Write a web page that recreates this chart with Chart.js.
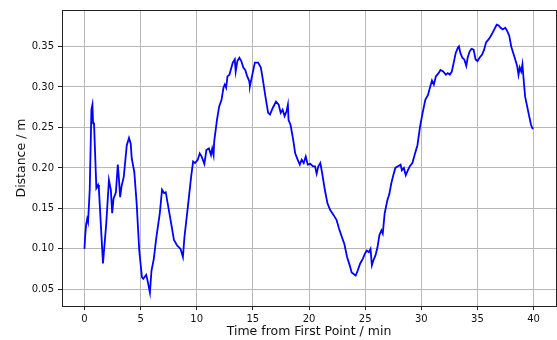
<!DOCTYPE html>
<html>
<head>
<meta charset="utf-8">
<script src="https://cdn.jsdelivr.net/npm/chart.js@4"></script>
<style>
  body { margin: 0; background: #fff; }
</style>
</head>
<body>
<canvas id="distChart" width="557" height="340"></canvas>
<script>
// time from first point (min) and distance (m)
const timeMin = [
  0.00, 0.06, 0.15, 0.24, 0.32, 0.47, 0.62, 0.71, 0.77, 0.85, 1.06, 1.21, 1.29, 1.65, 1.94,
  2.18, 2.35, 2.47, 2.59, 2.80, 2.97, 3.06, 3.18, 3.30, 3.50, 3.77, 3.97, 4.12, 4.21, 4.44,
  4.65, 4.88, 5.12, 5.24, 5.50, 5.65, 5.83, 5.97, 6.18, 6.41, 6.71, 6.91, 7.09, 7.24, 7.44,
  7.68, 7.97, 8.27, 8.56, 8.77, 8.91, 9.21, 9.50, 9.68, 9.85, 10.09, 10.27, 10.44, 10.68, 10.86,
  11.09, 11.27, 11.38, 11.50, 11.56, 11.80, 12.00, 12.21, 12.38, 12.50, 12.62, 12.74, 12.91, 13.09, 13.21,
  13.39, 13.47, 13.62, 13.80, 13.97, 14.15, 14.32, 14.50, 14.68, 14.74, 14.92, 15.18, 15.47, 15.71, 15.89,
  16.12, 16.36, 16.53, 16.77, 17.06, 17.30, 17.48, 17.65, 17.83, 18.00, 18.12, 18.18, 18.36, 18.59, 18.77,
  19.00, 19.18, 19.35, 19.53, 19.71, 19.89, 20.12, 20.36, 20.54, 20.68, 20.83, 21.01, 21.18, 21.41, 21.65,
  21.89, 22.18, 22.45, 22.68, 22.92, 23.15, 23.39, 23.62, 23.80, 23.98, 24.16, 24.33, 24.56, 24.80, 24.98,
  25.15, 25.33, 25.48, 25.60, 25.74, 25.92, 26.10, 26.27, 26.45, 26.57, 26.74, 26.98, 27.16, 27.33, 27.51,
  27.69, 27.92, 28.16, 28.27, 28.45, 28.62, 28.80, 28.98, 29.21, 29.45, 29.66, 29.89, 30.12, 30.36, 30.60,
  30.77, 30.95, 31.12, 31.30, 31.54, 31.71, 31.95, 32.19, 32.36, 32.54, 32.72, 32.89, 33.07, 33.25, 33.36,
  33.48, 33.66, 33.83, 34.01, 34.13, 34.31, 34.48, 34.66, 34.84, 35.01, 35.19, 35.42, 35.60, 35.77, 36.01,
  36.19, 36.36, 36.54, 36.72, 36.89, 37.07, 37.25, 37.48, 37.66, 37.84, 38.01, 38.19, 38.37, 38.54, 38.66,
  38.77, 38.90, 39.01, 39.13, 39.25, 39.43, 39.61, 39.78, 39.90, 40.00
];
const distanceM = [
  0.100, 0.115, 0.130, 0.137, 0.133, 0.173, 0.272, 0.278, 0.255, 0.256, 0.175, 0.179, 0.173, 0.082, 0.131,
  0.185, 0.173, 0.144, 0.162, 0.170, 0.204, 0.189, 0.164, 0.177, 0.189, 0.228, 0.237, 0.230, 0.212, 0.195,
  0.156, 0.098, 0.065, 0.063, 0.068, 0.059, 0.046, 0.073, 0.088, 0.115, 0.144, 0.173, 0.169, 0.170, 0.154,
  0.135, 0.111, 0.104, 0.100, 0.090, 0.115, 0.152, 0.189, 0.208, 0.206, 0.210, 0.218, 0.214, 0.205, 0.222,
  0.224, 0.216, 0.224, 0.216, 0.233, 0.259, 0.276, 0.284, 0.299, 0.303, 0.299, 0.313, 0.315, 0.324, 0.330,
  0.334, 0.319, 0.332, 0.336, 0.332, 0.324, 0.321, 0.313, 0.307, 0.301, 0.313, 0.330, 0.330, 0.324, 0.309,
  0.288, 0.268, 0.266, 0.274, 0.282, 0.278, 0.268, 0.272, 0.264, 0.270, 0.278, 0.259, 0.253, 0.235, 0.218,
  0.210, 0.204, 0.210, 0.206, 0.214, 0.204, 0.205, 0.202, 0.202, 0.193, 0.202, 0.206, 0.193, 0.173, 0.156,
  0.148, 0.142, 0.136, 0.125, 0.115, 0.106, 0.090, 0.080, 0.071, 0.069, 0.067, 0.073, 0.082, 0.088, 0.094,
  0.098, 0.096, 0.100, 0.080, 0.086, 0.092, 0.102, 0.117, 0.123, 0.119, 0.144, 0.160, 0.168, 0.181, 0.191,
  0.200, 0.202, 0.204, 0.197, 0.200, 0.191, 0.197, 0.202, 0.206, 0.218, 0.228, 0.251, 0.268, 0.284, 0.290,
  0.299, 0.308, 0.303, 0.313, 0.317, 0.321, 0.319, 0.315, 0.317, 0.315, 0.319, 0.330, 0.342, 0.348, 0.350,
  0.342, 0.336, 0.334, 0.326, 0.336, 0.344, 0.347, 0.346, 0.334, 0.332, 0.336, 0.340, 0.346, 0.355, 0.359,
  0.363, 0.367, 0.372, 0.377, 0.376, 0.373, 0.371, 0.373, 0.369, 0.363, 0.350, 0.342, 0.334, 0.326, 0.315,
  0.324, 0.319, 0.328, 0.307, 0.288, 0.276, 0.264, 0.253, 0.249, 0.249
];
const xTicks = [0, 5, 10, 15, 20, 25, 30, 35, 40];
const yTicks = [0.05, 0.10, 0.15, 0.20, 0.25, 0.30, 0.35];

const font = 'DejaVu Sans';
const textColor = '#111';

// matplotlib-style box round the axes
const frame = {
  id: 'frame',
  afterDatasetsDraw(chart) {
    const { ctx, chartArea: a } = chart;
    ctx.save();
    ctx.strokeStyle = '#222';
    ctx.lineWidth = 1;
    ctx.strokeRect(Math.round(a.left) + 0.5, Math.round(a.top) + 0.5,
      Math.round(a.right - a.left), Math.round(a.bottom - a.top));
    ctx.restore();
  }
};

const ctx = document.getElementById('distChart').getContext('2d');
new Chart(ctx, {
  type: 'line',
  data: {
    datasets: [{
      data: timeMin.map((t, i) => ({ x: t, y: distanceM[i] })),
      borderColor: '#0000ff',
      borderWidth: 1.8,
      pointRadius: 0,
      tension: 0,
      fill: false
    }]
  },
  options: {
    responsive: false,
    animation: false,
    layout: { padding: { top: 10, right: 1, left: 0, bottom: 0 } },
    plugins: { legend: { display: false }, tooltip: { enabled: false } },
    scales: {
      x: {
        type: 'linear',
        min: -2,
        max: 42,
        afterBuildTicks: s => { s.ticks = xTicks.map(v => ({ value: v })); },
        afterFit: s => { s.height = 34; },
        border: { display: false },
        grid: { color: '#b8b8b8', lineWidth: 1, tickColor: '#222', tickLength: 4 },
        ticks: { font: { family: font, size: 10 }, color: textColor, padding: 3, maxRotation: 0 },
        title: {
          display: true,
          text: 'Time from First Point / min',
          font: { family: font, size: 12.5 },
          color: textColor,
          padding: { top: 0, bottom: 1 }
        }
      },
      y: {
        min: 0.0295,
        max: 0.395,
        afterBuildTicks: s => { s.ticks = yTicks.map(v => ({ value: v })); },
        afterFit: s => { s.width = 62; },
        border: { display: false },
        grid: { color: '#b8b8b8', lineWidth: 1, tickColor: '#222', tickLength: 4 },
        ticks: {
          font: { family: font, size: 10 },
          color: textColor,
          padding: 4,
          callback: v => v.toFixed(2)
        },
        title: {
          display: true,
          text: 'Distance / m',
          font: { family: font, size: 12.5 },
          color: textColor,
          padding: { top: 14, bottom: 0 }
        }
      }
    }
  },
  plugins: [frame]
});
</script>
</body>
</html>
